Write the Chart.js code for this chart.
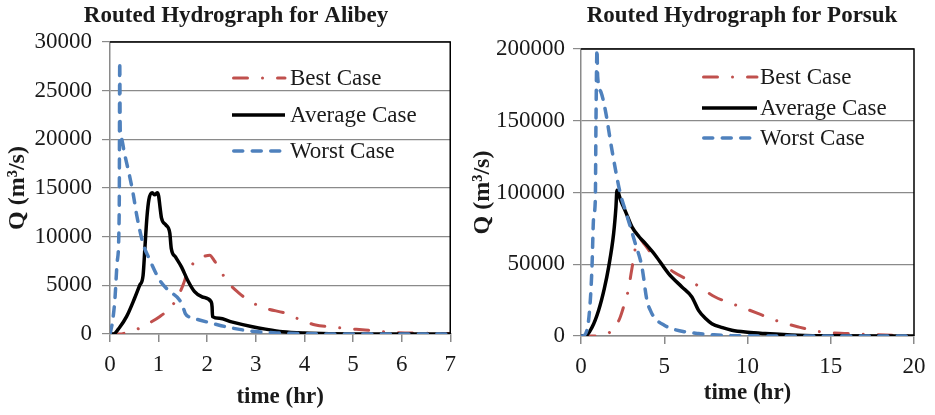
<!DOCTYPE html>
<html><head><meta charset="utf-8">
<script src="https://cdn.jsdelivr.net/npm/chart.js@4.4.0/dist/chart.umd.min.js"></script>
<style>
html,body{margin:0;padding:0;background:#fff;}
#wrap{position:relative;width:935px;height:415px;overflow:hidden;}
.box{position:absolute;top:0;height:415px;}
canvas{display:block;}
</style></head><body>
<div id="wrap">
<div class="box" style="left:0;width:465px"><canvas id="c1" width="465" height="415"></canvas></div>
<div class="box" style="left:465px;width:470px"><canvas id="c2" width="470" height="415"></canvas></div>
</div>
<script>
// ---- Data: Alibey ----
const alibeyXTicks = [0,1,2,3,4,5,6,7];
const alibeyYTicks = [0,5000,10000,15000,20000,25000,30000];
const alibeyBestT = [0,0.2,0.4,0.61,0.8,1.02,1.2,1.36,1.5,1.6,1.72,1.84,1.95,2.05,2.15,2.25,2.39,2.66,2.9,3.21,3.62,3.9,4.23,4.5,4.84,5.25,5.6,5.94,6.5,7.0];
const alibeyBestQ = [0,0,250,600,1100,1780,2500,3500,5000,6400,7300,7800,8000,8100,7500,6750,5550,4180,3300,2630,2120,1500,925,750,580,410,250,130,80,50];
const alibeyAvgT = [0,0.07,0.2,0.34,0.5,0.61,0.68,0.72,0.76,0.8,0.87,0.92,0.97,1.0,1.03,1.06,1.15,1.23,1.26,1.35,1.47,1.6,1.74,1.9,2.08,2.1,2.11,2.25,2.5,2.93,3.2,3.55,4.0,4.57,5.0,6.0,7.0];
const alibeyAvgQ = [0,0,700,1780,3600,5000,6000,9000,12000,13800,14500,14300,14500,14200,13000,11900,11200,10370,8800,7900,6900,5500,4350,3800,3320,2800,1780,1610,1250,750,500,240,100,30,10,0,0];
const alibeyWorstT = [0,0.05,0.1,0.15,0.19,0.2,0.21,0.23,0.3,0.4,0.48,0.55,0.68,0.82,1.02,1.2,1.43,1.5,1.55,1.65,1.84,2.1,2.52,3.0,3.5,4.0,5.0,6.0,7.0];
const alibeyWorstQ = [0,1200,3500,7500,12700,28000,21000,20200,18500,16300,14300,12200,9300,7600,5550,4500,3500,2800,2100,1700,1440,1100,600,250,100,30,0,0,0];

// ---- Data: Porsuk ----
const porsukXTicks = [0,5,10,15,20];
const porsukYTicks = [0,50000,100000,150000,200000];
const porsukBestT = [0,0.66,1.2,1.76,2.1,2.36,2.6,2.86,3.0,3.16,3.36,3.5,3.8,4.2,4.66,5.56,6.66,8.06,9.06,10.66,11.66,13.06,14.46,16,17.5,19,20];
const porsukBestQ = [0,0,500,2800,7000,13300,22000,33000,43000,54000,66800,68000,64000,58000,52800,44600,37700,27200,22600,15600,11000,6300,2800,1700,1000,500,300];
const porsukAvgT = [0,0.26,0.66,1.06,1.4,1.66,1.96,2.1,2.16,2.4,2.7,3.06,3.5,3.86,4.46,5.26,6.06,6.66,7.06,7.5,7.86,8.5,9.06,10,11.06,13,15,20];
const porsukAvgQ = [0,0,6000,18000,33000,48000,71400,90000,101600,94000,86000,76000,69000,64500,56300,43500,34200,27200,17900,12000,8600,5800,4000,2600,1700,500,100,0];
const porsukWorstT = [0,0.06,0.36,0.56,0.66,0.76,0.86,0.9,0.96,1.0,1.2,1.46,1.86,2.36,2.66,3.26,3.66,3.96,4.2,4.46,5.0,5.46,6.2,7.06,8,9,10,12,15,20];
const porsukWorstQ = [0,0,4000,25000,48000,83000,95000,150000,200000,181000,170000,157400,129500,99300,87700,64500,48100,24900,17000,12100,7500,5100,3000,1700,800,300,100,0,0,0];

const seriesNames = ['Best Case','Average Case','Worst Case'];
const FONT = '"Liberation Serif","Times New Roman",serif';

function pts(T,Q){ return T.map((t,i)=>({x:t,y:Q[i]})); }

const styles = [
  {borderColor:'#C0504D', borderWidth:3, borderDash:[14,15,0.01,15], borderCapStyle:'round', order:2},
  {borderColor:'#000000', borderWidth:3.5, borderDash:[], borderCapStyle:'butt', order:1},
  {borderColor:'#4F81BD', borderWidth:3.5, borderDash:[9,9.5], borderCapStyle:'round', order:0}
];

function deco(cfg){
  return {id:'deco', afterDraw(chart){
    const ctx=chart.ctx, a=chart.chartArea;
    ctx.save();
    ctx.strokeStyle='#000'; ctx.lineWidth=1.5;
    ctx.beginPath(); ctx.moveTo(a.left,a.top); ctx.lineTo(a.right,a.top); ctx.lineTo(a.right,a.bottom); ctx.stroke();
    ctx.fillStyle='#1a1a1a'; ctx.textAlign='center'; ctx.textBaseline='middle';
    ctx.font='bold 23px '+FONT;
    ctx.fillText(cfg.title, cfg.titleX, cfg.titleY);
    ctx.font='bold 23px '+FONT;
    ctx.fillText('time (hr)', (a.left+a.right)/2, cfg.xTitleY);
    ctx.save();
    ctx.translate(cfg.yTitleX,(a.top+a.bottom)/2); ctx.rotate(-Math.PI/2);
    ctx.font='bold 24px '+FONT;
    ctx.fillText('Q (m³/s)',0,0);
    ctx.restore();
    // legend
    ctx.font='23px '+FONT; ctx.textAlign='left';
    chart.data.datasets.forEach((ds,i)=>{
      const y=cfg.legY[i];
      ctx.save();
      ctx.strokeStyle=ds.borderColor; ctx.lineWidth=ds.borderWidth; ctx.setLineDash(ds.borderDash);
      ctx.lineCap=ds.borderCapStyle;
      const x1 = cfg.legX1 + (ds.borderCapStyle==='round'?ds.borderWidth/2:0);
      ctx.beginPath(); ctx.moveTo(x1,y); ctx.lineTo(cfg.legX2,y); ctx.stroke();
      ctx.restore();
      ctx.fillStyle='#1a1a1a';
      ctx.fillText(ds.label, cfg.legTextX, y+1);
    });
    ctx.restore();
  }};
}

function makeChart(id, data, xT, yT, xMax, yMax, yWidth, xHeight, pad, yPad, cfg){
  const datasets = data.map((d,i)=>Object.assign({
    label:seriesNames[i], data:pts(d[0],d[1]), showLine:true, pointRadius:0,
    fill:false, cubicInterpolationMode:'monotone', borderJoinStyle:'round'
  }, styles[i]));
  new Chart(document.getElementById(id), {
    type:'scatter',
    data:{datasets},
    options:{
      responsive:false, animation:false, devicePixelRatio:1,
      layout:{padding:pad},
      plugins:{legend:{display:false}, tooltip:{enabled:false}, title:{display:false}},
      scales:{
        x:{type:'linear', min:0, max:xMax,
          afterBuildTicks:(s)=>{ s.ticks = xT.map(v=>({value:v})); },
          afterFit:(s)=>{ s.height = xHeight; },
          grid:{drawOnChartArea:false, tickLength:8, color:'#8a8a8a', lineWidth:1.5},
          border:{color:'#8a8a8a', width:1.5},
          ticks:{font:{family:FONT, size:23}, color:'#1a1a1a', padding:9, maxRotation:0, autoSkip:false}
        },
        y:{type:'linear', min:0, max:yMax,
          afterBuildTicks:(s)=>{ s.ticks = yT.map(v=>({value:v})); },
          afterFit:(s)=>{ s.width = yWidth; },
          grid:{tickLength:8, color:'#8a8a8a', lineWidth:1.2},
          border:{color:'#8a8a8a', width:1.5},
          ticks:{font:{family:FONT, size:23}, color:'#1a1a1a', padding:yPad, autoSkip:false, callback:(v)=>String(v)}
        }
      }
    },
    plugins:[deco(cfg)]
  });
}

makeChart('c1',
  [[alibeyBestT,alibeyBestQ],[alibeyAvgT,alibeyAvgQ],[alibeyWorstT,alibeyWorstQ]],
  alibeyXTicks, alibeyYTicks, 7, 30000, 110, 81,
  {left:0,right:13,top:42,bottom:0}, 10,
  {title:'Routed Hydrograph for Alibey', titleX:236, titleY:16, xTitleY:397, yTitleX:18,
   legY:[78,115,151], legX1:232, legX2:285, legTextX:290});

makeChart('c2',
  [[porsukBestT,porsukBestQ],[porsukAvgT,porsukAvgQ],[porsukWorstT,porsukWorstQ]],
  porsukXTicks, porsukYTicks, 20, 200000, 116, 79,
  {left:0,right:21,top:49,bottom:0}, 8,
  {title:'Routed Hydrograph for Porsuk', titleX:277, titleY:16, xTitleY:393, yTitleX:18,
   legY:[77,108,138], legX1:237, legX2:292, legTextX:295});
</script>
</body></html>
